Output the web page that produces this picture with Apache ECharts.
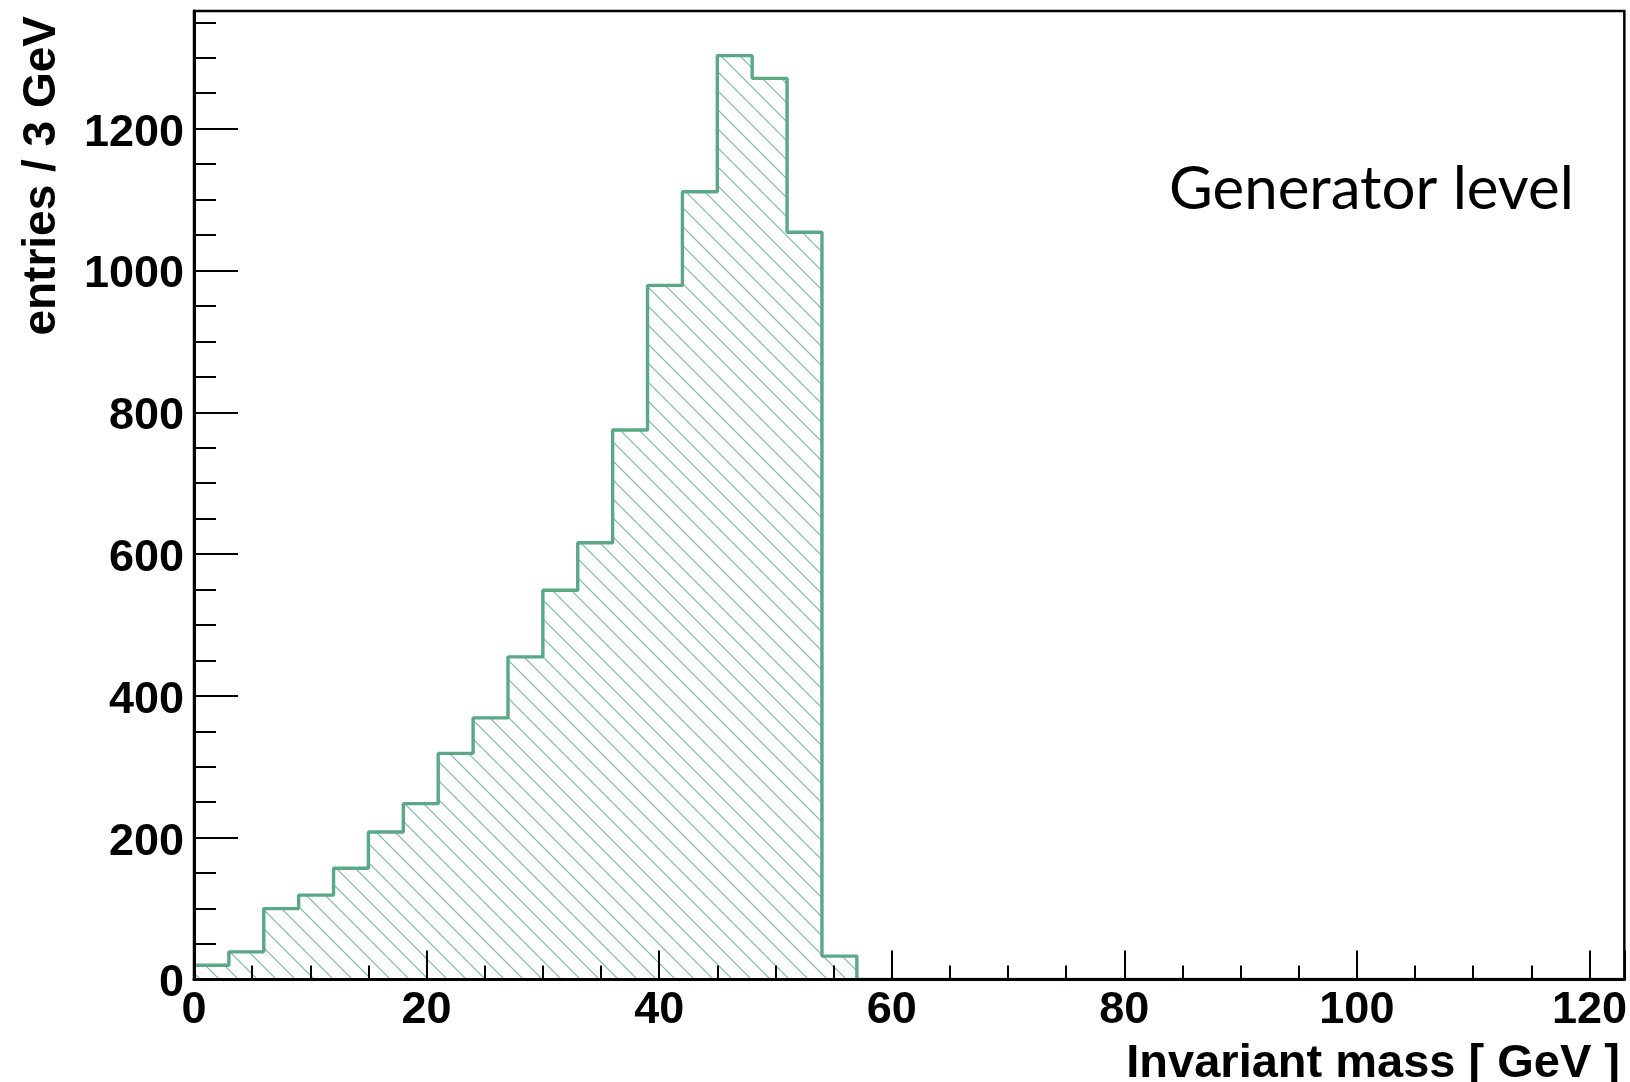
<!DOCTYPE html>
<html>
<head>
<meta charset="utf-8">
<title>Invariant mass – generator level</title>
<script src="https://cdn.jsdelivr.net/npm/echarts@6/dist/echarts.min.js"></script>
<style>
  html, body { margin: 0; padding: 0; background: #fff; }
  #chart { width: 1630px; height: 1082px; }
</style>
</head>
<body>
<div id="chart"></div>
<script>
// Histogram bin low edges (GeV), 3 GeV wide bins from 0 to 123
const massEdges = [0, 3, 6, 9, 12, 15, 18, 21, 24, 27, 30, 33, 36, 39, 42, 45, 48, 51, 54, 57,
                   60, 63, 66, 69, 72, 75, 78, 81, 84, 87, 90, 93, 96, 99, 102, 105, 108, 111, 114, 117, 120, 123];
// Entries per bin
const entries = [20, 39, 100, 119, 157, 208, 248, 319, 369, 455, 549, 616, 775, 979, 1111, 1303, 1271, 1054, 33, 0,
                 0, 0, 0, 0, 0, 0, 0, 0, 0, 0, 0, 0, 0, 0, 0, 0, 0, 0, 0, 0, 0];
const xRange = [0, 123];
const yRange = [0, 1366];
const xTitle = 'Invariant mass [ GeV ]';
const yTitle = 'entries / 3 GeV';
const annotation = 'Generator level';

const green = '#5aa886';
const axisFont = 'Liberation Sans, Arial, Helvetica, sans-serif';

// diagonal hatch tile ( \\\ )
function hatchPattern(step, color, width) {
  const c = document.createElement('canvas');
  c.width = step; c.height = step;
  const g = c.getContext('2d');
  g.strokeStyle = color;
  g.lineWidth = width;
  for (const off of [-step, 0, step]) {
    g.beginPath();
    g.moveTo(off - 1, -1);
    g.lineTo(off + step + 1, step + 1);
    g.stroke();
  }
  return c;
}

// step outline points: one per bin low edge, closing at the last edge
const stepData = entries.map((v, i) => [massEdges[i], v]);
stepData.push([massEdges[massEdges.length - 1], 0]);

const chart = echarts.init(document.getElementById('chart'), null, { renderer: 'canvas' });

const labelStyle = {
  color: '#000', fontFamily: axisFont, fontWeight: 'bold', fontSize: 45
};

chart.setOption({
  animation: false,
  backgroundColor: '#fff',
  grid: {
    left: 194, right: 3, top: 11, bottom: 102.5,
    show: true, borderColor: '#000', borderWidth: 2.5
  },
  xAxis: [
    {
      type: 'value', min: xRange[0], max: xRange[1], interval: 20, position: 'bottom', z: 5,
      axisLine: { show: true, lineStyle: { color: '#000', width: 3 } },
      axisTick: { show: true, inside: true, length: 29, lineStyle: { color: '#000', width: 2 } },
      axisLabel: Object.assign({ margin: 9, formatter: v => (v % 20 === 0 ? String(v) : '') }, labelStyle),
      splitLine: { show: false }
    },
    {
      type: 'value', min: xRange[0], max: xRange[1], interval: 5, position: 'bottom', z: 5,
      axisLine: { show: false },
      axisTick: { show: true, inside: true, length: 14, lineStyle: { color: '#000', width: 2 } },
      axisLabel: { show: false },
      splitLine: { show: false }
    }
  ],
  yAxis: [
    {
      type: 'value', min: yRange[0], max: yRange[1], interval: 200, position: 'left', z: 5,
      axisLine: { show: true, lineStyle: { color: '#000', width: 3 } },
      axisTick: { show: true, inside: true, length: 44, lineStyle: { color: '#000', width: 2 } },
      axisLabel: Object.assign({
        margin: 10,
        formatter: v => (v % 200 === 0 ? '{v|' + v + '}' : ''),
        rich: { v: Object.assign({ padding: [9, 0, 0, 0] }, labelStyle) }
      }, labelStyle),
      splitLine: { show: false }
    },
    {
      type: 'value', min: yRange[0], max: yRange[1], interval: 50, position: 'left', z: 5,
      axisLine: { show: false },
      axisTick: { show: true, inside: true, length: 22, lineStyle: { color: '#000', width: 2 } },
      axisLabel: { show: false },
      splitLine: { show: false }
    }
  ],
  series: [
    {
      type: 'line',
      xAxisIndex: 0, yAxisIndex: 0,
      step: 'end',
      data: stepData,
      symbol: 'none',
      z: 2,
      lineStyle: { color: green, width: 3.4 },
      areaStyle: {
        color: { image: hatchPattern(19, 'rgba(90,168,134,0.85)', 1.1), repeat: 'repeat' },
        opacity: 1
      }
    }
  ],
  graphic: [
    {
      type: 'text', x: 42, y: 16, rotation: Math.PI / 2,
      style: {
        text: yTitle, align: 'right', verticalAlign: 'middle',
        font: 'bold 46px ' + axisFont, fill: '#000'
      }
    },
    {
      type: 'text', x: 1620, y: 1064,
      style: {
        text: xTitle, align: 'right', verticalAlign: 'middle',
        font: 'bold 47px ' + axisFont, fill: '#000'
      }
    },
    {
      type: 'text', x: 1169, y: 190,
      style: {
        text: annotation, align: 'left', verticalAlign: 'middle',
        font: '60px Lato, "Open Sans", sans-serif', fill: '#000'
      }
    }
  ]
});
</script>
</body>
</html>
